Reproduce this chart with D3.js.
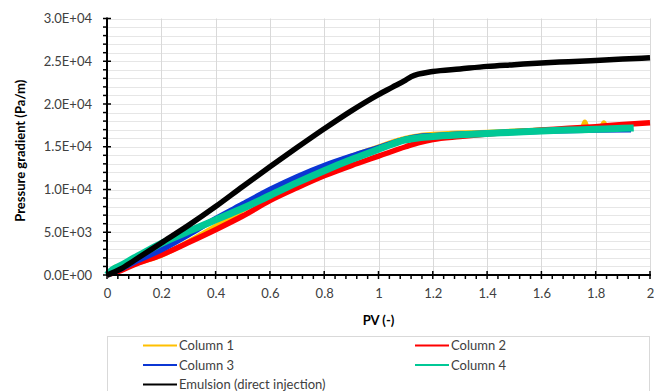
<!DOCTYPE html>
<html>
<head>
<meta charset="utf-8">
<script src="https://cdn.jsdelivr.net/npm/d3@7"></script>
<style>
  html, body { margin: 0; padding: 0; background: #fff; }
  svg { display: block; font-family: Lato, "Open Sans", sans-serif; }
</style>
</head>
<body>
<div id="chart"></div>
<script>
// Series data (PV, pressure gradient Pa/m)
const column1 = [
  [0, 0], [0.02, 500], [0.03, 950], [0.05, 800], [0.1, 1300], [0.2, 2300], [0.3, 3900],
  [0.4, 5700], [0.5, 7600], [0.6, 9500], [0.7, 11200], [0.8, 12700], [0.9, 13900],
  [1.0, 15000], [1.1, 16000], [1.15, 16300], [1.2, 16450], [1.4, 16700], [1.6, 16950],
  [1.75, 17100], [1.76, 17900], [1.77, 17150], [1.82, 17200], [1.83, 17800],
  [1.84, 17250], [1.9, 17300]
];
const column2 = [
  [0, 0], [0.05, 500], [0.1, 1200], [0.2, 2350], [0.3, 3800], [0.4, 5300], [0.5, 6900],
  [0.6, 8700], [0.7, 10200], [0.8, 11600], [0.9, 12800], [1.0, 13900], [1.1, 15000],
  [1.15, 15500], [1.2, 15850], [1.3, 16200], [1.4, 16500], [1.5, 16750], [1.6, 16950],
  [1.7, 17150], [1.8, 17350], [1.9, 17600], [2.0, 17800]
];
const column3 = [
  [0, 0], [0.05, 700], [0.1, 1500], [0.2, 2950], [0.3, 4700], [0.4, 6600], [0.5, 8300],
  [0.6, 10000], [0.7, 11500], [0.8, 12800], [0.9, 13900], [1.0, 14900], [1.1, 15900],
  [1.15, 16200], [1.2, 16300], [1.4, 16600], [1.6, 16800], [1.8, 16950], [1.93, 17000]
];
const column4 = [
  [0, 0], [0.02, 600], [0.05, 1100], [0.1, 2000], [0.15, 2850], [0.2, 3700], [0.3, 5100],
  [0.4, 6450], [0.5, 7800], [0.6, 9300], [0.7, 10800], [0.8, 12200], [0.9, 13500],
  [1.0, 14700], [1.05, 15300], [1.1, 15800], [1.15, 16050], [1.2, 16200], [1.3, 16400],
  [1.4, 16550], [1.5, 16700], [1.6, 16850], [1.7, 16950], [1.8, 17050], [1.9, 17150],
  [1.94, 17200]
];
const emulsion = [
  [0, 0], [0.05, 700], [0.1, 1700], [0.2, 3750], [0.3, 5800], [0.4, 8000], [0.5, 10350],
  [0.6, 12650], [0.7, 14900], [0.8, 17100], [0.9, 19200], [1.0, 21100], [1.05, 21950],
  [1.1, 22800], [1.12, 23200], [1.2, 23800], [1.3, 24100], [1.4, 24400], [1.5, 24600],
  [1.6, 24800], [1.7, 24950], [1.8, 25100], [1.9, 25250], [2.0, 25400]
];

const seriesNames = ["Column 1", "Column 2", "Column 3", "Column 4", "Emulsion (direct injection)"];
const seriesColors = ["#FFC000", "#FF0000", "#0B36D4", "#00C896", "#000000"];
const seriesWidths = [5, 5.5, 5.5, 7, 5.5];
const seriesData = [column1, column2, column3, column4, emulsion];

const xMajor = [0, 0.2, 0.4, 0.6, 0.8, 1, 1.2, 1.4, 1.6, 1.8, 2];
const yMajor = [0, 5000, 10000, 15000, 20000, 25000, 30000];

const width = 654, height = 391;
const margin = { left: 107, right: 4, top: 18.5, bottom: 116 };

const svg = d3.select("#chart").append("svg")
  .attr("width", width).attr("height", height);

const x = d3.scaleLinear().domain([0, 2]).range([margin.left, width - margin.right]);
const y = d3.scaleLinear().domain([0, 30000]).range([height - margin.bottom, margin.top]);

const xMinor = d3.range(0, 2.0001, 0.04);
const yMinor = d3.range(0, 30001, 1000);

// Gridlines
svg.append("g").selectAll("line").data(yMinor.filter(d => d > 0)).enter().append("line")
  .attr("x1", x(0)).attr("x2", x(2))
  .attr("y1", d => Math.round(y(d)) + 0.5).attr("y2", d => Math.round(y(d)) + 0.5)
  .attr("stroke", "#e6e6e6");
svg.append("g").selectAll("line").data(xMajor.filter(d => d > 0)).enter().append("line")
  .attr("x1", d => Math.round(x(d)) + 0.5).attr("x2", d => Math.round(x(d)) + 0.5)
  .attr("y1", y(0)).attr("y2", y(30000))
  .attr("stroke", "#d9d9d9");

// Series
const line = d3.line().curve(d3.curveMonotoneX).x(d => x(d[0])).y(d => y(d[1]));
seriesData.forEach((data, i) => {
  svg.append("path").datum(data)
    .attr("d", line)
    .attr("fill", "none")
    .attr("stroke", seriesColors[i])
    .attr("stroke-width", seriesWidths[i])
    .attr("stroke-linejoin", "round")
    .attr("stroke-linecap", "butt");
});

// Axes
const fmtSci = v => {
  if (v === 0) return "0.0E+00";
  const e = Math.floor(Math.log10(v));
  return (v / Math.pow(10, e)).toFixed(1) + "E+" + String(e).padStart(2, "0");
};

const yAxis = svg.append("g")
  .attr("transform", `translate(${x(0)},0)`)
  .call(d3.axisLeft(y).tickValues(yMajor).tickSize(0).tickPadding(15).tickFormat(fmtSci));
yAxis.select(".domain").remove();
yAxis.selectAll("text").attr("font-size", 13).attr("fill", "#404040")
  .attr("font-family", "Lato, sans-serif");

const xAxis = svg.append("g")
  .attr("transform", `translate(0,${y(0)})`)
  .call(d3.axisBottom(x).tickValues(xMajor).tickSize(0).tickPadding(14)
    .tickFormat(d => String(+d.toFixed(1))));
xAxis.select(".domain").remove();
xAxis.selectAll("text").attr("font-size", 13).attr("fill", "#404040")
  .attr("font-family", "Lato, sans-serif");

// Tick marks
svg.append("g").selectAll("line").data(yMinor).enter().append("line")
  .attr("x1", x(0) - 4).attr("x2", d => yMajor.includes(d) ? x(0) + 4 : x(0))
  .attr("y1", d => y(d)).attr("y2", d => y(d))
  .attr("stroke", "#000").attr("stroke-width", 1.5);
svg.append("g").selectAll("line").data(xMinor).enter().append("line")
  .attr("x1", d => x(d)).attr("x2", d => x(d))
  .attr("y1", d => xMajor.some(m => Math.abs(m - d) < 1e-6) ? y(0) - 4 : y(0))
  .attr("y2", y(0) + 4)
  .attr("stroke", "#000").attr("stroke-width", 1.5);

// Axis lines
svg.append("line").attr("x1", x(0)).attr("x2", x(0)).attr("y1", y(30000) - 1).attr("y2", y(0) + 1)
  .attr("stroke", "#000").attr("stroke-width", 2);
svg.append("line").attr("x1", x(0) - 1).attr("x2", x(2) + 1).attr("y1", y(0)).attr("y2", y(0))
  .attr("stroke", "#000").attr("stroke-width", 2);

// Axis titles
svg.append("text")
  .attr("x", (x(0) + x(2)) / 2).attr("y", 325)
  .attr("text-anchor", "middle").attr("font-size", 13).attr("font-weight", "bold")
  .attr("fill", "#000").text("PV (-)");
svg.append("text")
  .attr("transform", `translate(25,${(y(0) + y(30000)) / 2 + 4}) rotate(-90)`)
  .attr("text-anchor", "middle").attr("font-size", 13).attr("font-weight", "bold")
  .attr("fill", "#000").text("Pressure gradient (Pa/m)");

// Legend
svg.append("rect")
  .attr("x", 107.5).attr("y", 336.5).attr("width", 542).attr("height", 80)
  .attr("fill", "#fff").attr("stroke", "#d9d9d9");

const legendPos = [[143, 345.5], [415, 345.5], [143, 365], [415, 365], [143, 384.5]];
seriesNames.forEach((name, i) => {
  const [lx, ly] = legendPos[i];
  svg.append("line").attr("x1", lx).attr("x2", lx + 34).attr("y1", ly).attr("y2", ly)
    .attr("stroke", seriesColors[i]).attr("stroke-width", 2);
  svg.append("text").attr("x", lx + 36).attr("y", ly + 4.5)
    .attr("font-size", 13).attr("fill", "#404040").text(name);
});
</script>
</body>
</html>
